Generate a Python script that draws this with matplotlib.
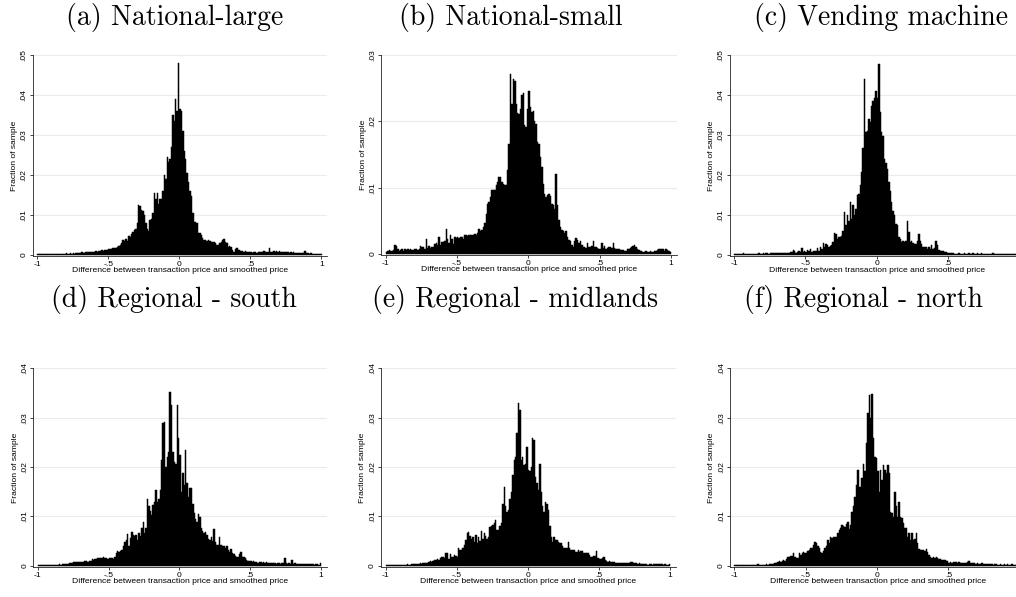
import numpy as np
import matplotlib
matplotlib.use("Agg")
import matplotlib.pyplot as plt

# bin edges: width .01 from -1 to 1 (200 bins); heights, in thousandths
bin_edges = np.round(np.arange(-1.0, 1.0001, 0.01), 2)

natl_large = [
    0.1, 0.2, 0.1, 0.2, 0.2, 0.1, 0.2, 0.2, 0.2, 0.2,
    0.2, 0.3, 0.2, 0.2, 0.3, 0.2, 0.3, 0.3, 0.2, 0.3,
    0.5, 0.3, 0.3, 0.4, 0.3, 0.4, 0.3, 0.5, 0.4, 0.4,
    0.5, 0.6, 0.5, 0.5, 0.6, 0.7, 0.6, 0.6, 0.7, 0.8,
    0.8, 0.9, 0.8, 1.0, 1.0, 1.1, 1.0, 1.2, 1.1, 1.3,
    1.4, 1.5, 1.5, 1.6, 1.6, 1.8, 2.0, 2.3, 2.5, 3.0,
    3.8, 3.5, 3.9, 3.4, 4.7, 4.4, 5.2, 5.8, 6.1, 6.5,
    8.0, 12.5, 12.3, 11.2, 11.0, 10.0, 8.0, 6.5, 6.0, 8.8,
    9.0, 10.4, 15.5, 14.0, 15.5, 12.8, 14.0, 14.0, 16.0, 20.0,
    19.0, 24.4, 23.3, 24.0, 27.0, 35.0, 33.5, 39.0, 36.0, 48.0,
    36.4, 36.0, 31.0, 26.0, 24.0, 20.4, 18.3, 16.0, 14.6, 10.4,
    8.3, 8.3, 8.0, 5.4, 5.4, 5.0, 4.2, 3.8, 3.8, 3.5,
    3.8, 3.5, 3.3, 3.3, 3.3, 2.9, 2.5, 2.5, 3.0, 3.3,
    3.8, 4.0, 3.3, 3.0, 2.0, 2.3, 2.0, 1.2, 0.8, 1.4,
    1.6, 1.2, 1.2, 0.9, 1.0, 0.8, 1.0, 0.7, 0.8, 0.6,
    0.6, 0.5, 0.6, 0.7, 0.5, 0.6, 0.7, 0.6, 0.7, 0.9,
    0.6, 0.7, 0.8, 1.7, 0.6, 0.7, 0.9, 0.8, 0.9, 0.8,
    0.9, 0.7, 0.8, 0.8, 0.7, 0.6, 0.7, 0.5, 0.6, 0.5,
    0.6, 0.5, 0.5, 0.4, 0.5, 0.4, 0.5, 0.4, 1.0, 0.5,
    0.4, 0.3, 0.4, 0.3, 0.3, 0.3, 0.2, 0.3, 0.2, 0.2,
]

natl_small = [
    0.3, 0.5, 0.6, 0.5, 0.4, 0.6, 1.3, 1.2, 0.7, 0.5,
    0.6, 0.8, 0.5, 0.7, 0.6, 0.8, 0.6, 0.7, 0.6, 0.6,
    0.7, 0.8, 0.6, 0.7, 1.2, 1.1, 1.0, 0.8, 2.2, 0.9,
    1.2, 0.9, 1.0, 1.1, 1.5, 1.6, 1.3, 2.6, 1.4, 1.8,
    1.8, 2.0, 3.7, 2.2, 1.6, 2.8, 2.2, 1.5, 2.6, 2.4,
    2.5, 2.4, 2.6, 2.5, 2.3, 2.8, 2.8, 2.7, 2.8, 2.8,
    2.9, 2.8, 3.0, 2.9, 3.2, 3.8, 3.4, 3.6, 4.1, 4.6,
    6.1, 7.5, 7.9, 8.6, 9.7, 9.7, 9.6, 10.4, 10.9, 11.6,
    11.6, 10.8, 10.6, 10.4, 10.4, 12.6, 16.6, 27.2, 22.6, 26.4,
    26.1, 22.6, 21.3, 21.1, 21.9, 23.9, 24.2, 19.4, 19.1, 21.9,
    24.5, 22.1, 21.4, 21.6, 20.1, 19.6, 16.9, 16.6, 14.6, 13.1,
    10.6, 9.1, 8.6, 8.9, 9.0, 8.8, 7.6, 7.4, 6.8, 12.0,
    7.4, 5.1, 4.1, 3.6, 3.4, 3.1, 3.4, 2.6, 2.1, 1.9,
    1.4, 1.1, 1.9, 2.4, 2.1, 1.6, 1.9, 1.4, 1.1, 1.1,
    0.9, 1.6, 1.1, 1.1, 1.2, 1.9, 1.1, 1.0, 0.9, 0.8,
    0.8, 1.6, 0.9, 1.2, 0.8, 0.9, 1.0, 1.1, 0.9, 1.6,
    0.9, 0.8, 0.7, 0.8, 0.6, 0.6, 0.6, 0.5, 0.5, 0.7,
    0.8, 0.9, 1.0, 1.2, 1.3, 1.1, 0.8, 0.6, 0.5, 0.4,
    0.3, 0.3, 0.4, 0.3, 0.3, 0.4, 0.3, 0.3, 0.4, 0.5,
    0.6, 0.8, 0.7, 0.8, 0.7, 0.5, 0.8, 0.6, 0.4, 0.3,
]

vending = [
    0.1, 0.2, 0.2, 0.1, 0.2, 0.2, 0.3, 0.2, 0.2, 0.1,
    0.2, 0.2, 0.1, 0.2, 0.2, 0.1, 0.2, 0.3, 0.2, 0.2,
    0.3, 0.2, 0.3, 0.3, 0.2, 0.3, 0.3, 0.4, 0.3, 0.3,
    0.3, 0.4, 0.3, 0.4, 0.4, 0.5, 0.3, 0.4, 0.5, 0.6,
    0.6, 1.2, 1.0, 0.5, 0.6, 0.8, 0.6, 1.6, 0.6, 0.9,
    0.7, 1.2, 0.8, 1.4, 0.7, 0.8, 1.0, 0.9, 1.7, 1.0,
    1.8, 1.3, 2.8, 1.8, 2.7, 2.3, 1.9, 2.2, 2.3, 3.1,
    5.3, 5.2, 3.9, 4.3, 4.5, 4.7, 6.0, 10.6, 7.3, 9.8,
    8.5, 13.1, 8.9, 12.3, 10.0, 11.4, 14.8, 15.2, 17.3, 20.6,
    26.8, 44.0, 30.6, 31.0, 33.9, 33.1, 37.3, 38.5, 39.3, 41.0,
    39.3, 47.8, 35.6, 30.6, 29.8, 23.9, 23.0, 21.4, 18.1, 16.0,
    13.1, 11.0, 10.0, 7.7, 7.3, 4.3, 3.9, 3.1, 3.5, 3.1,
    3.3, 8.3, 5.6, 3.1, 3.5, 3.0, 2.7, 2.7, 3.5, 5.2,
    3.5, 2.7, 1.8, 1.8, 1.8, 1.4, 1.8, 1.4, 2.3, 1.4,
    1.6, 3.3, 2.3, 1.2, 0.8, 0.8, 0.8, 0.6, 0.6, 0.5,
    0.5, 0.4, 0.3, 0.3, 0.2, 0.2, 0.2, 0.3, 0.2, 0.2,
    0.2, 0.3, 0.2, 0.2, 0.3, 0.2, 0.2, 0.3, 0.2, 0.2,
    0.3, 0.2, 0.2, 0.3, 0.2, 0.2, 0.2, 0.1, 0.2, 0.2,
    0.2, 0.3, 0.2, 0.1, 0.2, 0.2, 0.1, 0.2, 0.1, 0.2,
    0.1, 0.2, 0.1, 0.1, 0.2, 0.1, 0.1, 0.1, 0.1, 0.1,
]

reg_south = [
    0.1, 0.1, 0.1, 0.1, 0.1, 0.2, 0.1, 0.1, 0.2, 0.1,
    0.2, 0.1, 0.2, 0.2, 0.2, 0.3, 0.2, 0.3, 0.3, 0.4,
    0.3, 0.4, 0.5, 0.5, 0.6, 0.7, 0.8, 0.7, 0.8, 0.7,
    0.8, 0.8, 0.7, 0.9, 0.9, 0.8, 0.9, 1.0, 1.3, 1.2,
    1.3, 1.4, 1.5, 1.6, 1.5, 1.6, 1.7, 1.5, 1.6, 1.4,
    1.5, 1.6, 1.5, 1.4, 1.8, 2.6, 3.0, 2.8, 3.0, 3.1,
    3.9, 4.9, 5.2, 6.4, 3.9, 5.7, 6.9, 6.2, 6.0, 6.2,
    5.2, 6.6, 6.0, 7.6, 8.8, 6.6, 7.6, 13.6, 12.0, 11.0,
    10.3, 12.3, 13.0, 15.3, 13.0, 13.5, 15.3, 21.4, 28.9, 29.2,
    20.1, 22.1, 23.1, 35.1, 32.6, 23.1, 21.1, 20.7, 32.6, 25.8,
    22.4, 15.0, 18.7, 16.4, 23.4, 16.7, 14.0, 15.7, 15.7, 12.6,
    10.6, 9.5, 8.9, 10.5, 9.9, 7.6, 7.0, 6.6, 6.9, 6.2,
    5.5, 5.2, 5.9, 5.0, 7.4, 4.9, 4.2, 4.2, 5.9, 4.2,
    4.0, 3.9, 3.5, 4.0, 3.2, 2.8, 3.3, 2.6, 2.3, 2.0,
    1.8, 1.8, 2.3, 2.7, 1.8, 1.7, 1.5, 1.1, 1.0, 0.9,
    0.9, 0.8, 1.0, 0.7, 0.8, 0.6, 0.8, 0.7, 0.6, 0.7,
    0.6, 0.7, 0.5, 0.6, 0.5, 0.6, 0.5, 0.5, 0.4, 0.5,
    0.5, 0.4, 0.5, 0.6, 1.6, 0.5, 0.4, 0.5, 0.4, 1.2,
    0.4, 0.5, 0.3, 0.4, 0.3, 0.4, 0.3, 0.3, 0.4, 0.3,
    0.3, 0.3, 0.4, 0.3, 0.3, 0.2, 0.3, 0.3, 0.2, 0.5,
]

reg_midlands = [
    0.1, 0.1, 0.1, 0.1, 0.1, 0.1, 0.1, 0.2, 0.1, 0.1,
    0.2, 0.1, 0.2, 0.2, 0.2, 0.3, 0.2, 0.2, 0.3, 0.3,
    0.3, 0.4, 0.3, 0.4, 0.5, 0.4, 0.5, 0.6, 0.5, 0.6,
    0.8, 0.9, 0.8, 1.0, 1.1, 1.2, 1.3, 1.2, 1.5, 1.7,
    1.8, 1.6, 2.5, 2.5, 1.4, 2.4, 1.8, 1.7, 2.2, 2.0,
    1.8, 3.5, 3.2, 3.2, 3.5, 4.2, 5.2, 6.6, 6.9, 6.0,
    5.5, 5.9, 4.9, 6.2, 4.7, 5.9, 5.0, 7.1, 5.5, 6.6,
    6.0, 5.5, 5.9, 7.9, 8.1, 8.2, 8.6, 9.3, 7.2, 7.2,
    8.0, 8.6, 12.6, 16.0, 12.0, 10.9, 11.3, 13.6, 15.0, 18.4,
    21.4, 22.1, 26.8, 32.9, 31.6, 21.4, 22.1, 20.4, 20.7, 24.0,
    19.4, 19.1, 20.1, 25.8, 25.5, 18.0, 16.7, 15.3, 20.6, 15.0,
    12.0, 10.9, 13.0, 12.6, 11.3, 8.0, 5.9, 4.9, 5.9, 5.2,
    5.2, 4.9, 4.7, 4.7, 3.9, 3.5, 3.5, 3.6, 4.9, 3.5,
    3.2, 3.1, 3.2, 2.8, 2.8, 3.2, 2.8, 2.9, 3.0, 2.5,
    2.5, 2.6, 2.6, 2.2, 1.8, 1.8, 2.0, 2.0, 3.0, 1.5,
    1.3, 1.4, 1.6, 1.8, 1.1, 1.0, 0.8, 0.9, 0.8, 0.7,
    0.7, 0.6, 0.6, 0.5, 0.6, 0.5, 0.6, 0.5, 0.6, 0.5,
    0.6, 0.5, 0.7, 0.8, 0.6, 0.5, 0.5, 0.4, 0.5, 0.4,
    0.3, 0.4, 0.3, 0.3, 0.2, 0.3, 0.3, 0.2, 0.3, 0.3,
    0.3, 0.4, 0.3, 0.3, 0.3, 0.2, 0.3, 0.2, 0.2, 0.3,
]

reg_north = [
    0.2, 0.1, 0.2, 0.2, 0.1, 0.2, 0.2, 0.2, 0.1, 0.2,
    0.2, 0.2, 0.2, 0.1, 0.2, 0.2, 0.3, 0.2, 0.2, 0.2,
    0.2, 0.2, 0.3, 0.2, 0.3, 0.3, 0.4, 0.3, 0.5, 0.6,
    0.8, 0.9, 0.8, 1.0, 1.1, 0.9, 1.3, 1.8, 1.7, 1.9,
    2.0, 2.5, 1.7, 1.5, 1.5, 2.5, 2.2, 2.5, 2.8, 2.6,
    2.6, 3.0, 3.2, 3.5, 3.5, 4.2, 4.9, 4.5, 3.9, 3.5,
    2.8, 2.6, 3.0, 3.5, 3.9, 5.2, 4.7, 5.9, 5.7, 5.9,
    5.9, 5.9, 6.6, 7.2, 7.6, 8.2, 8.1, 7.9, 8.4, 8.9,
    7.4, 8.2, 10.9, 12.0, 14.0, 16.4, 19.4, 16.0, 16.0, 17.7,
    20.7, 19.1, 24.8, 30.9, 34.6, 29.9, 34.8, 25.8, 22.1, 21.8,
    19.1, 15.0, 19.4, 17.4, 20.4, 19.4, 18.7, 20.4, 18.7, 10.9,
    10.6, 9.9, 15.0, 12.0, 9.9, 13.0, 9.9, 9.6, 8.6, 7.6,
    7.6, 5.9, 6.6, 5.2, 6.6, 5.2, 5.5, 6.6, 4.5, 3.3,
    3.2, 3.2, 3.2, 3.0, 3.3, 2.8, 2.2, 1.8, 1.5, 1.7,
    1.6, 1.7, 1.5, 1.3, 1.4, 1.1, 1.2, 1.1, 1.0, 0.9,
    0.6, 0.7, 0.6, 0.8, 0.7, 0.8, 0.6, 0.7, 0.5, 0.6,
    0.5, 0.6, 0.5, 0.7, 0.9, 0.6, 0.5, 0.6, 0.5, 0.4,
    0.5, 0.4, 0.4, 0.5, 0.3, 0.4, 0.3, 0.3, 0.4, 0.3,
    0.3, 0.2, 0.3, 0.3, 0.2, 0.2, 0.3, 0.2, 0.2, 0.3,
    0.2, 0.3, 0.2, 0.2, 0.3, 0.2, 0.2, 0.2, 0.3, 0.2,
]

titles = ["(a) National-large", "(b) National-small", "(c) Vending machine",
          "(d) Regional - south", "(e) Regional - midlands", "(f) Regional - north"]
series = [natl_large, natl_small, vending, reg_south, reg_midlands, reg_north]
y_tops = [0.05, 0.03, 0.05, 0.04, 0.04, 0.04]
x_ticks = [-1, -0.5, 0, 0.5, 1]
x_ticklabels = ["-1", "-.5", "0", ".5", "1"]
xlabel = "Difference between transaction price and smoothed price"
ylabel = "Fraction of sample"

# layout in pixels: x of -1, x of +1, y of top tick, y of 0, title centre x, title y
W, H = 1016, 597
layout = [
    (37.1, 321.5, 55.0, 254.7, 175, 17),
    (385.7, 671.0, 55.0, 254.0, 511, 17),
    (734.0, 1019.5, 55.0, 254.5, 881, 17),
    (37.7, 321.0, 368.3, 565.7, 174, 300),
    (385.5, 670.0, 368.3, 565.7, 515, 300),
    (734.5, 1019.7, 368.3, 565.7, 864, 300),
]

sans = "Liberation Sans"
fs = 6.1
fig = plt.figure(figsize=(W / 100, H / 100), dpi=100)
fig.patch.set_facecolor("white")

XMIN, XMAX, YMIN_FRAC = -1.03, 1.04, 0.007

for k in range(6):
    xm1, xp1, ytop, yzero, tx, ty = layout[k]
    top = y_tops[k]
    ppx = (xp1 - xm1) / 2.0
    left = xm1 + (XMIN + 1) * ppx
    right = xp1 + (XMAX - 1) * ppx
    ymin = -YMIN_FRAC * top
    bottom = yzero - ymin * (yzero - ytop) / top
    ax = fig.add_axes([left / W, 1 - bottom / H, (right - left) / W, (bottom - ytop) / H])

    heights = np.array(series[k]) / 1000.0
    ax.bar(bin_edges[:-1], heights, width=0.01, align="edge",
           color="black", edgecolor="black", linewidth=0.35, zorder=2)

    ax.set_xlim(XMIN, XMAX)
    ax.set_ylim(ymin, top)
    yt = np.round(np.arange(0, top + 1e-9, 0.01), 2)
    ax.set_yticks(yt)
    ax.set_yticklabels(["0"] + ["." + f"{v:.2f}"[2:] for v in yt[1:]],
                       rotation=90, va="center", fontsize=fs, family=sans)
    ax.set_xticks(x_ticks)
    ax.set_xticklabels(x_ticklabels, fontsize=fs, family=sans)
    # right-hand column runs past the page edge, its "1" label falls outside
    if xp1 + 3 > W:
        ax.get_xticklabels()[-1].set_visible(False)
    for v in yt[1:]:
        ax.axhline(v, color="#ebebeb", linewidth=0.8, zorder=0)

    for s in ["top", "right"]:
        ax.spines[s].set_visible(False)
    for s in ["left", "bottom"]:
        ax.spines[s].set_linewidth(0.6)
        ax.spines[s].set_color("#222222")
    ax.tick_params(axis="both", length=2.2, width=0.6, color="#222222", pad=1.0)
    ax.tick_params(axis="y", pad=1.5)

    ax.set_xlabel(xlabel, fontsize=fs, family=sans, labelpad=-0.5)
    ax.set_ylabel(ylabel, fontsize=fs, family=sans, labelpad=2)

    fig.text(tx / W, 1 - ty / H, titles[k], ha="center", va="center",
             fontsize=20, family="cmr10")

fig.savefig("out.png", dpi=100, facecolor="white")
